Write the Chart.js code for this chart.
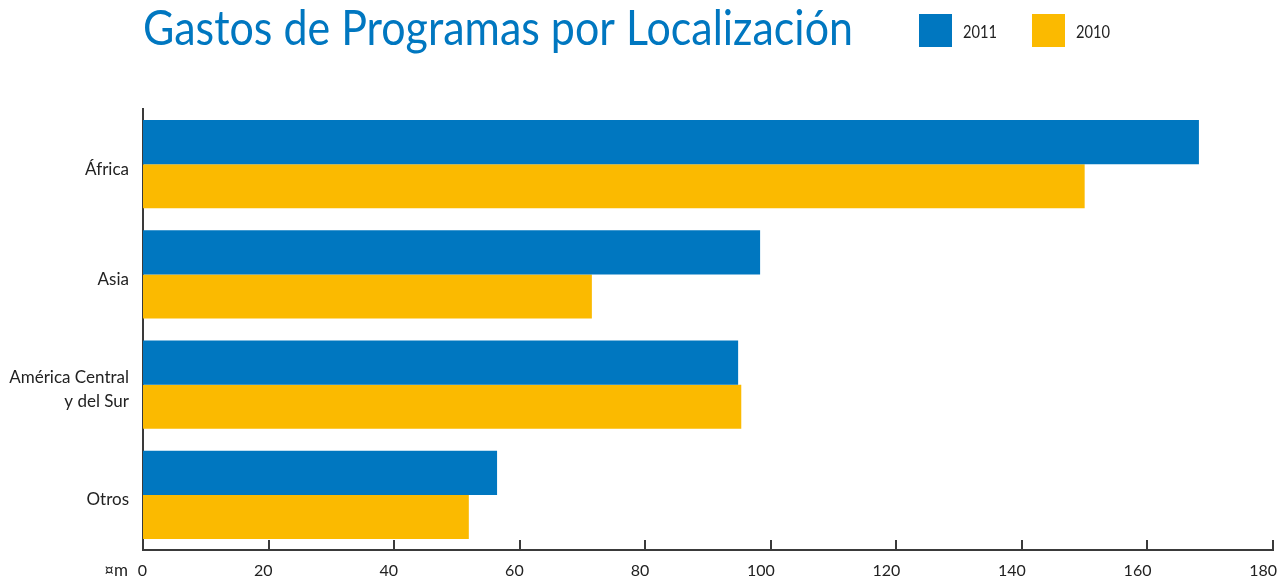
<!DOCTYPE html>
<html>
<head>
<meta charset="utf-8">
<script src="https://cdn.jsdelivr.net/npm/chart.js@4.4.1/dist/chart.umd.min.js"></script>
<style>
  body { margin: 0; background: #fff; }
  #wrap { width: 1281px; height: 579px; }
</style>
</head>
<body>
<div id="wrap"><canvas id="gastos" width="1281" height="579"></canvas></div>
<script>
const chartTitle = "Gastos de Programas por Localización";
const unitLabel = "¤m";
const regions = ["África", "Asia", ["América Central", "y del Sur"], "Otros"];
const years = ["2011", "2010"];
const values2011 = [168.2, 98.3, 94.8, 56.4];
const values2010 = [150.0, 71.5, 95.3, 51.9];
const xTicks = [0, 20, 40, 60, 80, 100, 120, 140, 160, 180];

const BLUE = "#0077c0";
const YELLOW = "#fbba00";
const INK = "#222222";
const AXIS = "#3a3a3a";
const FONT = "Lato, 'Open Sans', sans-serif";

// title, legend, inward ticks and unit label
const extras = {
  id: "extras",
  afterDraw(chart) {
    const ctx = chart.ctx;
    const xs = chart.scales.x;
    const area = chart.chartArea;
    ctx.save();

    ctx.strokeStyle = AXIS;
    ctx.lineWidth = 2;
    xTicks.forEach((v) => {
      if (v === 0) return;
      const px = Math.round(xs.getPixelForValue(v));
      ctx.beginPath();
      ctx.moveTo(px, area.bottom - 10);
      ctx.lineTo(px, area.bottom);
      ctx.stroke();
    });

    ctx.fillStyle = BLUE;
    ctx.font = "48px " + FONT;
    ctx.textBaseline = "alphabetic";
    ctx.textAlign = "left";
    ctx.fillText(chartTitle, 143, 45, 710);

    let lx = 919;
    ctx.font = "18px " + FONT;
    chart.data.datasets.forEach((ds) => {
      ctx.fillStyle = ds.backgroundColor;
      ctx.fillRect(lx, 14, 33, 33);
      ctx.fillStyle = INK;
      ctx.fillText(ds.label, lx + 44, 38, 34);
      lx += 113;
    });

    ctx.font = "17px " + FONT;
    ctx.textAlign = "right";
    ctx.fillText(unitLabel, 128, 576);
    ctx.restore();
  }
};

new Chart(document.getElementById("gastos"), {
  type: "bar",
  data: {
    labels: regions,
    datasets: [
      { label: years[0], data: values2011, backgroundColor: BLUE },
      { label: years[1], data: values2010, backgroundColor: YELLOW },
    ],
  },
  options: {
    indexAxis: "y",
    responsive: false,
    devicePixelRatio: 1,
    animation: false,
    categoryPercentage: 0.8,
    barPercentage: 1.0,
    layout: { padding: { top: 109, right: 8, left: 0, bottom: 0 } },
    plugins: {
      legend: { display: false },
      title: { display: false },
      tooltip: { enabled: false },
    },
    scales: {
      x: {
        min: 0,
        max: 180,
        afterBuildTicks: (scale) => {
          scale.ticks = xTicks.map((v) => ({ value: v }));
        },
        grid: { display: false, drawTicks: false },
        border: { display: true, color: AXIS, width: 2 },
        ticks: {
          color: INK,
          font: { family: FONT, size: 16 },
          padding: 11,
          align: "end",
          labelOffset: 4,
          maxRotation: 0,
          autoSkip: false,
        },
        afterFit: (scale) => {
          scale.height = 29;
          scale.paddingLeft = 0;
          scale.paddingRight = 0;
        },
      },
      y: {
        grid: { display: false, drawTicks: false },
        border: { display: true, color: AXIS, width: 2 },
        ticks: {
          color: INK,
          font: { family: FONT, size: 17, lineHeight: 1.4 },
          padding: 14,
          labelOffset: 5,
        },
        afterFit: (scale) => {
          scale.width = 143;
        },
      },
    },
  },
  plugins: [extras],
});
</script>
</body>
</html>
